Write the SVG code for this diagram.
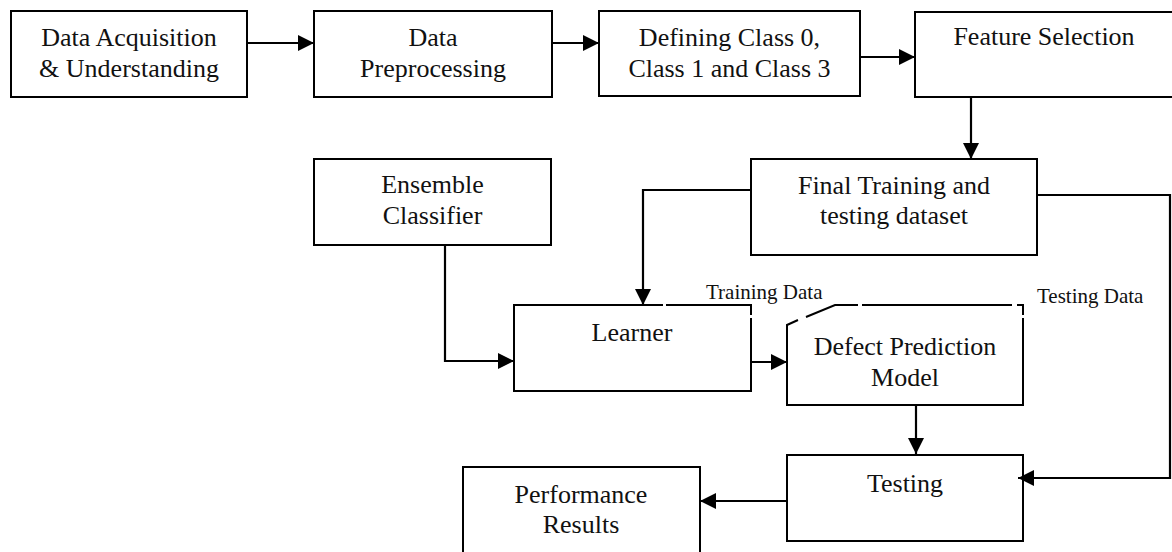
<svg xmlns="http://www.w3.org/2000/svg" width="1172" height="552" viewBox="0 0 1172 552">
  <style>
    .box { fill: none; stroke: #000; stroke-width: 2; }
    .wire { fill: none; stroke: #000; stroke-width: 2.2; }
    .lbl { font-family: "Liberation Serif", "Times New Roman", serif; font-size: 26px; fill: #111; text-anchor: middle; }
    .tag { font-family: "Liberation Serif", "Times New Roman", serif; font-size: 21px; fill: #111; }
  </style>
  <defs>
    <marker id="head" markerUnits="userSpaceOnUse" markerWidth="16" markerHeight="16" refX="16" refY="8" orient="auto">
      <path d="M0,0 L16,8 L0,16 z" fill="#000"/>
    </marker>
  </defs>
  <rect width="1172" height="552" fill="#fff"/>

  <g id="acquisition">
    <rect class="box" x="11" y="11" width="236" height="86"/>
    <text class="lbl" x="129" y="46">Data Acquisition</text>
    <text class="lbl" x="129" y="77">&amp; Understanding</text>
  </g>

  <g id="preprocessing">
    <rect class="box" x="314" y="11" width="238" height="86"/>
    <text class="lbl" x="433" y="46">Data</text>
    <text class="lbl" x="433" y="77">Preprocessing</text>
  </g>

  <g id="classes">
    <rect class="box" x="599" y="11" width="261" height="85"/>
    <text class="lbl" x="729.5" y="46">Defining Class 0,</text>
    <text class="lbl" x="729.5" y="77">Class 1 and Class 3</text>
  </g>

  <g id="feature-selection">
    <rect class="box" x="915" y="12" width="270" height="85"/>
    <text class="lbl" x="1044" y="45">Feature Selection</text>
  </g>

  <g id="final-dataset">
    <rect class="box" x="751" y="159" width="286" height="96"/>
    <text class="lbl" x="894" y="194">Final Training and</text>
    <text class="lbl" x="894" y="224">testing dataset</text>
  </g>

  <g id="ensemble">
    <rect class="box" x="314" y="159" width="237" height="86"/>
    <text class="lbl" x="432.5" y="193">Ensemble</text>
    <text class="lbl" x="432.5" y="224">Classifier</text>
  </g>

  <g id="learner">
    <path class="box" d="M663,305 H514 V391 H751 V318 M751,315 V305 H666"/>
    <text class="lbl" x="632" y="341">Learner</text>
  </g>

  <g id="model">
    <path class="box" d="M798,320 L787,325 V405 H1023 V318 M1023,315 V305 H1017 M1012,305 H862 M858,305 H835 L806,317"/>
    <text class="lbl" x="905" y="355">Defect Prediction</text>
    <text class="lbl" x="905" y="386">Model</text>
  </g>

  <g id="testing">
    <rect class="box" x="787" y="455" width="236" height="86"/>
    <text class="lbl" x="905" y="492">Testing</text>
  </g>

  <g id="results">
    <rect class="box" x="463" y="467" width="237" height="100"/>
    <text class="lbl" x="581" y="503">Performance</text>
    <text class="lbl" x="581" y="533">Results</text>
  </g>

  <g id="connectors">
    <line class="wire" x1="247" y1="43" x2="314" y2="43" marker-end="url(#head)"/>
    <line class="wire" x1="552" y1="43" x2="599" y2="43" marker-end="url(#head)"/>
    <line class="wire" x1="860" y1="57" x2="915" y2="57" marker-end="url(#head)"/>
    <line class="wire" x1="971" y1="97" x2="971" y2="159" marker-end="url(#head)"/>
    <polyline class="wire" points="751,190 643,190 643,305" marker-end="url(#head)"/>
    <polyline class="wire" points="445,245 445,361 514,361" marker-end="url(#head)"/>
    <line class="wire" x1="751" y1="362" x2="787" y2="362" marker-end="url(#head)"/>
    <polyline class="wire" points="1037,195 1170,195 1170,478 1018,478" marker-end="url(#head)"/>
    <line class="wire" x1="916" y1="405" x2="916" y2="454" marker-end="url(#head)"/>
    <line class="wire" x1="787" y1="501" x2="700" y2="501" marker-end="url(#head)"/>
    <text class="tag" x="706" y="299">Training Data</text>
    <text class="tag" x="1037" y="303">Testing Data</text>
  </g>
</svg>
